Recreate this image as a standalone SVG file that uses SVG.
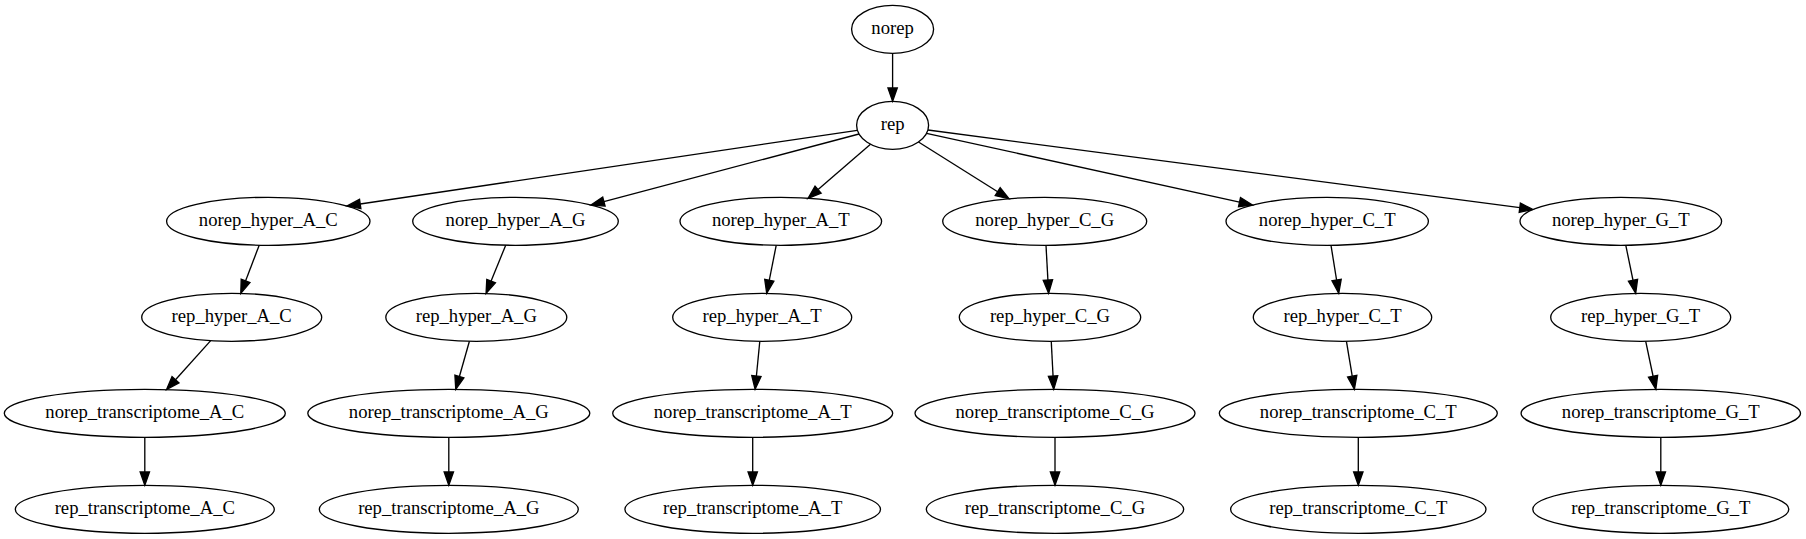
<svg xmlns="http://www.w3.org/2000/svg" width="1806" height="539" viewBox="0 0 1806 539">
<style>
  .node ellipse { fill: none; stroke: #000; stroke-width: 1.33; }
  .node text { font-family: "Liberation Serif", "Times New Roman", serif; font-size: 18.67px; text-anchor: middle; fill: #000; }
  #edges path { fill: none; stroke: #000; stroke-width: 1.33; marker-end: url(#arrow); }
</style>
<defs>
  <marker id="arrow" markerUnits="userSpaceOnUse" markerWidth="16" markerHeight="12" refX="0" refY="4.67" orient="auto" overflow="visible">
    <path d="M0,0 L13.33,4.67 L0,9.33 Z" fill="#000" stroke="#000" stroke-width="1.33"/>
  </marker>
</defs>
<rect width="1806" height="539" fill="#fff"/>
<g id="edges">
  <path d="M892.6,53.3 L892.6,88"/>
  <path d="M857.3,130.3 L360.2,204.0"/>
  <path d="M859,134 L603.9,201.6"/>
  <path d="M870.5,144.3 L818.1,189.6"/>
  <path d="M918.5,142 L997.7,191.7"/>
  <path d="M926.5,133.3 L1239.5,202.1"/>
  <path d="M928,130 L1519.8,207.7"/>

  <path d="M259.2,245.2 L245.55,280.9"/>
  <path d="M210.7,340.6 L175.5,379.7"/>
  <path d="M144.8,437.3 L144.8,472"/>

  <path d="M505.7,245.2 L491.1,281.1"/>
  <path d="M469.4,341.2 L459.4,376.5"/>
  <path d="M448.8,437.3 L448.8,472"/>

  <path d="M776.2,245.3 L769.3,280.2"/>
  <path d="M759.8,341.3 L756.4,376.0"/>
  <path d="M752.7,437.3 L752.7,472"/>

  <path d="M1046,245.3 L1047.9,280.0"/>
  <path d="M1051.25,341.3 L1053.05,376.0"/>
  <path d="M1055,437.3 L1055,472"/>

  <path d="M1331,245.3 L1336.6,280.1"/>
  <path d="M1346.45,341.3 L1352.2,376.15"/>
  <path d="M1358.3,437.3 L1358.3,472"/>

  <path d="M1625.8,245.3 L1633.0,280.25"/>
  <path d="M1645.7,341.3 L1653.1,376.25"/>
  <path d="M1660.8,437.3 L1660.8,472"/>
</g>

<g id="norep" class="node"><ellipse cx="892.6" cy="29.3" rx="41" ry="24"/><text x="892.6" y="34.3">norep</text></g>
<g id="rep" class="node"><ellipse cx="892.6" cy="125.3" rx="36" ry="24"/><text x="892.6" y="130.3">rep</text></g>

<g id="norep_hyper_A_C" class="node"><ellipse cx="268.3" cy="221.3" rx="101.7" ry="24"/><text x="268.3" y="226.3">norep_hyper_A_C</text></g>
<g id="norep_hyper_A_G" class="node"><ellipse cx="515.5" cy="221.3" rx="102.8" ry="24"/><text x="515.5" y="226.3">norep_hyper_A_G</text></g>
<g id="norep_hyper_A_T" class="node"><ellipse cx="780.8" cy="221.3" rx="100.8" ry="24"/><text x="780.8" y="226.3">norep_hyper_A_T</text></g>
<g id="norep_hyper_C_G" class="node"><ellipse cx="1044.7" cy="221.3" rx="102" ry="24"/><text x="1044.7" y="226.3">norep_hyper_C_G</text></g>
<g id="norep_hyper_C_T" class="node"><ellipse cx="1327.2" cy="221.3" rx="101.2" ry="24"/><text x="1327.2" y="226.3">norep_hyper_C_T</text></g>
<g id="norep_hyper_G_T" class="node"><ellipse cx="1620.8" cy="221.3" rx="100.8" ry="24"/><text x="1620.8" y="226.3">norep_hyper_G_T</text></g>

<g id="rep_hyper_A_C" class="node"><ellipse cx="231.7" cy="317.3" rx="90" ry="24"/><text x="231.7" y="322.3">rep_hyper_A_C</text></g>
<g id="rep_hyper_A_G" class="node"><ellipse cx="476.3" cy="317.3" rx="90.5" ry="24"/><text x="476.3" y="322.3">rep_hyper_A_G</text></g>
<g id="rep_hyper_A_T" class="node"><ellipse cx="762.2" cy="317.3" rx="89.5" ry="24"/><text x="762.2" y="322.3">rep_hyper_A_T</text></g>
<g id="rep_hyper_C_G" class="node"><ellipse cx="1050" cy="317.3" rx="90.7" ry="24"/><text x="1050" y="322.3">rep_hyper_C_G</text></g>
<g id="rep_hyper_C_T" class="node"><ellipse cx="1342.5" cy="317.3" rx="89.2" ry="24"/><text x="1342.5" y="322.3">rep_hyper_C_T</text></g>
<g id="rep_hyper_G_T" class="node"><ellipse cx="1640.7" cy="317.3" rx="90" ry="24"/><text x="1640.7" y="322.3">rep_hyper_G_T</text></g>

<g id="norep_transcriptome_A_C" class="node"><ellipse cx="144.8" cy="413.3" rx="140.5" ry="24"/><text x="144.8" y="418.3">norep_transcriptome_A_C</text></g>
<g id="norep_transcriptome_A_G" class="node"><ellipse cx="448.8" cy="413.3" rx="141" ry="24"/><text x="448.8" y="418.3">norep_transcriptome_A_G</text></g>
<g id="norep_transcriptome_A_T" class="node"><ellipse cx="752.7" cy="413.3" rx="140" ry="24"/><text x="752.7" y="418.3">norep_transcriptome_A_T</text></g>
<g id="norep_transcriptome_C_G" class="node"><ellipse cx="1055" cy="413.3" rx="140" ry="24"/><text x="1055" y="418.3">norep_transcriptome_C_G</text></g>
<g id="norep_transcriptome_C_T" class="node"><ellipse cx="1358.3" cy="413.3" rx="139" ry="24"/><text x="1358.3" y="418.3">norep_transcriptome_C_T</text></g>
<g id="norep_transcriptome_G_T" class="node"><ellipse cx="1660.8" cy="413.3" rx="139.7" ry="24"/><text x="1660.8" y="418.3">norep_transcriptome_G_T</text></g>

<g id="rep_transcriptome_A_C" class="node"><ellipse cx="144.8" cy="509.3" rx="129.5" ry="24"/><text x="144.8" y="514.3">rep_transcriptome_A_C</text></g>
<g id="rep_transcriptome_A_G" class="node"><ellipse cx="448.8" cy="509.3" rx="129.5" ry="24"/><text x="448.8" y="514.3">rep_transcriptome_A_G</text></g>
<g id="rep_transcriptome_A_T" class="node"><ellipse cx="752.7" cy="509.3" rx="127.8" ry="24"/><text x="752.7" y="514.3">rep_transcriptome_A_T</text></g>
<g id="rep_transcriptome_C_G" class="node"><ellipse cx="1055" cy="509.3" rx="128.7" ry="24"/><text x="1055" y="514.3">rep_transcriptome_C_G</text></g>
<g id="rep_transcriptome_C_T" class="node"><ellipse cx="1358.3" cy="509.3" rx="127.7" ry="24"/><text x="1358.3" y="514.3">rep_transcriptome_C_T</text></g>
<g id="rep_transcriptome_G_T" class="node"><ellipse cx="1660.8" cy="509.3" rx="128" ry="24"/><text x="1660.8" y="514.3">rep_transcriptome_G_T</text></g>
</svg>
